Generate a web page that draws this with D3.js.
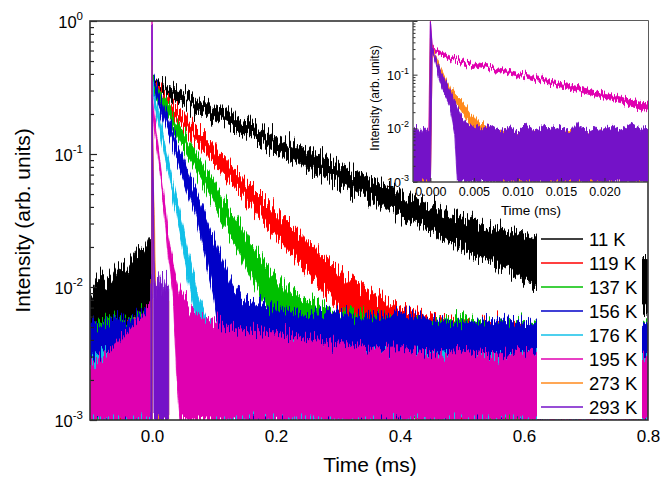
<!DOCTYPE html>
<html>
<head>
<meta charset="utf-8">
<script src="https://cdn.jsdelivr.net/npm/d3@7"></script>
<style>
  body { margin: 0; background: #fff; }
  text { font-family: "Liberation Sans", Arial, Helvetica, sans-serif; fill: #000; }
</style>
</head>
<body>
<svg id="chart" width="662" height="478"></svg>
<script>
// Series labels and colours (legend order = drawing order)
const seriesNames = ['11 K', '119 K', '137 K', '156 K', '176 K', '195 K', '273 K', '293 K'];
const seriesColors = ['#000000', '#ff0000', '#00c000', '#0000c8', '#12c0e8', '#e000b0', '#ff8a1c', '#7412c8'];

// Each row: [time (ms), upper edge of noisy trace, lower edge of noisy trace]
const s11K = [
    [-0.1, 0.009, 0.0005], [-0.085, 0.012, 0.0005], [-0.07, 0.011, 0.0005], [-0.055, 0.015, 0.0005],
    [-0.04, 0.014, 0.0005], [-0.025, 0.019, 0.0005], [-0.012, 0.02, 0.0005], [-0.003, 0.025, 0.0005],
    [-0.0005, 0.022, 0.0005], [0, 0.36, 0.3], [0.01, 0.35, 0.29], [0.05, 0.29, 0.24],
    [0.1, 0.226, 0.182], [0.15, 0.175, 0.138], [0.2, 0.136, 0.104], [0.25, 0.105, 0.079],
    [0.3, 0.084, 0.06], [0.35, 0.066, 0.045], [0.4, 0.051, 0.034], [0.45, 0.041, 0.026],
    [0.5, 0.033, 0.0195], [0.55, 0.028, 0.015], [0.6, 0.025, 0.011], [0.65, 0.022, 0.0093],
    [0.7, 0.0195, 0.008], [0.75, 0.0175, 0.007], [0.8, 0.016, 0.006]
];
const s119K = [
    [-0.1, 0.0045, 0.0005], [-0.06, 0.005, 0.0005], [-0.03, 0.0055, 0.0005], [-0.0005, 0.005, 0.0005],
    [0, 0.36, 0.3], [0.02, 0.28, 0.232], [0.05, 0.198, 0.158], [0.1, 0.114, 0.085],
    [0.15, 0.064, 0.046], [0.2, 0.037, 0.024], [0.25, 0.022, 0.0133], [0.3, 0.0135, 0.007],
    [0.35, 0.0095, 0.0038], [0.38, 0.008, 0.0012], [0.4, 0.007, 0.0005], [0.44, 0.006, 0.0005],
    [0.48, 0.0055, 0.0005], [0.52, 0.005, 0.0005], [0.56, 0.0055, 0.0005], [0.6, 0.0048, 0.0005],
    [0.7, 0.0048, 0.0005], [0.8, 0.0046, 0.0005]
];
const s137K = [
    [-0.1, 0.005, 0.0005], [-0.07, 0.006, 0.0005], [-0.04, 0.0055, 0.0005], [-0.015, 0.0065, 0.0005],
    [-0.0005, 0.006, 0.0005], [0, 0.37, 0.3], [0.02, 0.26, 0.21], [0.04, 0.18, 0.142],
    [0.06, 0.125, 0.095], [0.08, 0.088, 0.063], [0.1, 0.061, 0.042], [0.12, 0.043, 0.028],
    [0.14, 0.03, 0.0185], [0.16, 0.021, 0.012], [0.18, 0.0155, 0.0078], [0.2, 0.0118, 0.0045],
    [0.22, 0.0095, 0.0018], [0.25, 0.0078, 0.0005], [0.3, 0.0066, 0.0005], [0.35, 0.0062, 0.0005],
    [0.4, 0.0056, 0.0005], [0.45, 0.0054, 0.0005], [0.5, 0.006, 0.0005], [0.55, 0.005, 0.0005],
    [0.6, 0.0054, 0.0005], [0.65, 0.0048, 0.0005], [0.7, 0.0055, 0.0005], [0.75, 0.005, 0.0005],
    [0.8, 0.0054, 0.0005]
];
const s156K = [
    [-0.1, 0.0055, 0.0005], [-0.08, 0.005, 0.0005], [-0.06, 0.006, 0.0005], [-0.04, 0.0055, 0.0005],
    [-0.02, 0.0065, 0.0005], [-0.0005, 0.006, 0.0005], [0, 0.38, 0.31], [0.01, 0.3, 0.245],
    [0.02, 0.224, 0.178], [0.03, 0.165, 0.127], [0.04, 0.123, 0.092], [0.05, 0.093, 0.066],
    [0.06, 0.069, 0.047], [0.07, 0.052, 0.034], [0.08, 0.04, 0.022], [0.09, 0.03, 0.014],
    [0.1, 0.023, 0.0085], [0.11, 0.0175, 0.004], [0.12, 0.0135, 0.0015], [0.13, 0.0105, 0.0005],
    [0.15, 0.008, 0.0005], [0.2, 0.0068, 0.0005], [0.25, 0.0062, 0.0005], [0.3, 0.0064, 0.0005],
    [0.35, 0.0057, 0.0005], [0.4, 0.0064, 0.0005], [0.45, 0.0056, 0.0005], [0.5, 0.0053, 0.0005],
    [0.55, 0.0058, 0.0005], [0.6, 0.0053, 0.0005], [0.7, 0.0056, 0.0005], [0.8, 0.0053, 0.0005]
];
const s176K = [
    [-0.1, 0.003, 0.0005], [-0.05, 0.0032, 0.0005], [-0.0005, 0.0035, 0.0005], [0, 0.35, 0.3],
    [0.005, 0.275, 0.23], [0.01, 0.21, 0.177], [0.02, 0.125, 0.101], [0.03, 0.075, 0.059],
    [0.04, 0.045, 0.034], [0.05, 0.028, 0.019], [0.06, 0.017, 0.0105], [0.07, 0.0108, 0.0058],
    [0.08, 0.0074, 0.003], [0.09, 0.0056, 0.0015], [0.1, 0.0046, 0.0005], [0.12, 0.0038, 0.0005],
    [0.3, 0.0032, 0.0005], [0.5, 0.003, 0.0005], [0.8, 0.003, 0.0005]
];
const s195K = [
    [-0.1, 0.0025, 0.0005], [-0.08, 0.003, 0.0005], [-0.06, 0.0036, 0.0005], [-0.04, 0.0045, 0.0005],
    [-0.02, 0.006, 0.0005], [-0.005, 0.0072, 0.0005], [-0.0015, 0.0065, 0.0005], [-0.0008, 0.005, 0.0005],
    [-0.0002, 0.0065, 0.0005], [0, 1.0, 0.0005], [0.0002, 0.34, 0.28], [0.0006, 0.3, 0.26],
    [0.0012, 0.27, 0.23], [0.0023, 0.22, 0.19], [0.0046, 0.17, 0.145], [0.0081, 0.13, 0.112],
    [0.0115, 0.097, 0.083], [0.0173, 0.058, 0.047], [0.0219, 0.038, 0.03], [0.025, 0.028, 0.02],
    [0.03, 0.019, 0.012], [0.035, 0.014, 0.007], [0.04, 0.011, 0.002], [0.045, 0.009, 0.0005],
    [0.05, 0.0082, 0.0005], [0.06, 0.0072, 0.0005], [0.07, 0.0066, 0.0005], [0.08, 0.006, 0.0005],
    [0.1, 0.0055, 0.0005], [0.12, 0.005, 0.0005], [0.15, 0.0047, 0.0005], [0.2, 0.0045, 0.0005],
    [0.25, 0.0041, 0.0005], [0.3, 0.0038, 0.0005], [0.35, 0.0034, 0.0005], [0.4, 0.0035, 0.0005],
    [0.45, 0.0031, 0.0005], [0.5, 0.0033, 0.0005], [0.55, 0.0031, 0.0005], [0.6, 0.0033, 0.0005],
    [0.65, 0.003, 0.0005], [0.7, 0.0032, 0.0005], [0.75, 0.0033, 0.0005], [0.8, 0.0031, 0.0005]
];
const s273K = [
    [-0.002, 0.008, 0.0005], [-0.0015, 0.0095, 0.0005], [-0.001, 0.007, 0.0005], [-0.0005, 0.009, 0.0005],
    [-0.0001, 0.008, 0.0005], [0, 0.5, 0.0005], [0.0002, 0.33, 0.29], [0.0006, 0.22, 0.19],
    [0.0011, 0.15, 0.1], [0.0017, 0.09, 0.065], [0.0023, 0.056, 0.037], [0.0029, 0.042, 0.028],
    [0.0035, 0.034, 0.022], [0.0046, 0.019, 0.0115], [0.0058, 0.0125, 0.0065], [0.0069, 0.0095, 0.002],
    [0.008, 0.0085, 0.0005], [0.01, 0.008, 0.0005], [0.012, 0.0085, 0.0005], [0.014, 0.0075, 0.0005],
    [0.016, 0.008, 0.0005], [0.018, 0.0075, 0.0005], [0.02, 0.0085, 0.0005], [0.022, 0.0078, 0.0005],
    [0.024, 0.008, 0.0005], [0.027, 0.008, 0.0005]
];
const s293K = [
    [-0.002, 0.009, 0.0005], [-0.0016, 0.011, 0.0005], [-0.0012, 0.008, 0.0005], [-0.0008, 0.0105, 0.0005],
    [-0.0004, 0.009, 0.0005], [-0.0001, 0.01, 0.0005], [0, 1.0, 0.0005], [0.0002, 0.32, 0.27],
    [0.0006, 0.21, 0.17], [0.0011, 0.12, 0.07], [0.0017, 0.075, 0.04], [0.0023, 0.05, 0.025],
    [0.0028, 0.032, 0.008], [0.0031, 0.024, 0.0008], [0.0035, 0.017, 0.0005], [0.004, 0.013, 0.0005],
    [0.0046, 0.0115, 0.0005], [0.005, 0.011, 0.0005], [0.006, 0.0095, 0.0005], [0.007, 0.0115, 0.0005],
    [0.008, 0.009, 0.0005], [0.009, 0.0105, 0.0005], [0.01, 0.0085, 0.0005], [0.011, 0.012, 0.0005],
    [0.012, 0.009, 0.0005], [0.013, 0.0105, 0.0005], [0.014, 0.0095, 0.0005], [0.015, 0.011, 0.0005],
    [0.016, 0.0085, 0.0005], [0.017, 0.0125, 0.0005], [0.018, 0.009, 0.0005], [0.019, 0.0105, 0.0005],
    [0.02, 0.0095, 0.0005], [0.021, 0.011, 0.0005], [0.022, 0.009, 0.0005], [0.023, 0.0115, 0.0005],
    [0.024, 0.0095, 0.0005], [0.025, 0.01, 0.0005], [0.027, 0.0095, 0.0005]
];
const allSeries = [s11K, s119K, s137K, s156K, s176K, s195K, s273K, s293K];
const insetSeries = [5, 6, 7]; // 195 K, 273 K, 293 K

// Axis ticks
const xTicksMain = [0, 0.2, 0.4, 0.6, 0.8];
const xTicksInset = [0, 0.005, 0.01, 0.015, 0.02];
const yDecades = [1e-3, 1e-2, 1e-1, 1];
const yDecadeExp = ['-3', '-2', '-1', '0'];

const svg = d3.select('#chart');
const font = '"Liberation Sans", Arial, sans-serif';
const defs = svg.append('defs');

// Jitter filter: shifts each pixel column up/down so the bands read as noisy traces
function addJitter(id, seed, scale, freq) {
    const f = defs.append('filter').attr('id', id)
        .attr('filterUnits', 'userSpaceOnUse')
        .attr('x', 0).attr('y', 0).attr('width', 662).attr('height', 478)
        .attr('color-interpolation-filters', 'sRGB');
    f.append('feTurbulence')
        .attr('type', 'fractalNoise').attr('baseFrequency', freq)
        .attr('numOctaves', 2).attr('seed', seed).attr('result', 'noise');
    f.append('feColorMatrix').attr('in', 'noise').attr('type', 'matrix')
        .attr('values', '0 0 0 0 0.5  0 1 0 0 0  0 0 0 0 0  0 0 0 0 1')
        .attr('result', 'shift');
    f.append('feDisplacementMap')
        .attr('in', 'SourceGraphic').attr('in2', 'shift').attr('scale', scale)
        .attr('xChannelSelector', 'R').attr('yChannelSelector', 'G');
}
seriesNames.forEach((n, i) => {
    addJitter(`jit${i}`, 3 + i * 7, 34, '0.75 0.012');
    addJitter(`ijit${i}`, 5 + i * 11, 13, '0.7 0.02');
});

// ---------- main plot ----------
const M = { left: 90, right: 648, top: 21, bottom: 420 };
const x = d3.scaleLinear().domain([-0.1, 0.8]).range([M.left, M.right]);
const y = d3.scaleLog().domain([1e-3, 1]).range([M.bottom, M.top]).clamp(true);

defs.append('clipPath').attr('id', 'clipMain').append('rect')
    .attr('x', M.left).attr('y', M.top)
    .attr('width', M.right - M.left).attr('height', M.bottom - M.top);

const band = (sx, sy) => d3.area()
    .x(d => sx(d[0]))
    .y0(d => sy(d[2]))
    .y1(d => sy(d[1]));

const mainData = svg.append('g').attr('clip-path', 'url(#clipMain)');
allSeries.forEach((s, i) => {
    mainData.append('path')
        .datum(s)
        .attr('d', band(x, y))
        .attr('fill', seriesColors[i])
        .attr('stroke', seriesColors[i])
        .attr('stroke-width', 0.9)
        .attr('stroke-linejoin', 'round')
        .attr('filter', `url(#jit${i})`);
});

// Legend (white box over the data)
const legend = svg.append('g');
legend.append('rect')
    .attr('x', 537).attr('y', 226).attr('width', 105).attr('height', 193)
    .attr('fill', '#fff');
seriesNames.forEach((name, i) => {
    const ly = 239 + i * 24;
    legend.append('line')
        .attr('x1', 541).attr('x2', 583).attr('y1', ly).attr('y2', ly)
        .attr('stroke', seriesColors[i]).attr('stroke-width', 1.5);
    legend.append('text')
        .attr('x', 589).attr('y', ly + 6.5)
        .attr('font-size', '18.5px')
        .text(name);
});

// Main axes
const axisG = svg.append('g');
axisG.append('g')
    .attr('transform', `translate(0,${M.bottom})`)
    .call(d3.axisBottom(x).tickValues(xTicksMain).tickSize(0).tickPadding(10)
        .tickFormat(d3.format('.1f')))
    .call(g => g.select('.domain').remove())
    .selectAll('text').attr('font-size', '17px').attr('font-family', font).attr('fill', '#000');

const yMinor = y.ticks().filter(v => yDecades.indexOf(v) < 0);
axisG.append('g')
    .attr('transform', `translate(${M.left},0)`)
    .call(d3.axisLeft(y).tickValues(yMinor).tickSize(-4).tickFormat(''))
    .call(g => g.select('.domain').remove())
    .selectAll('line').attr('stroke', '#222').attr('stroke-width', 1.2);
axisG.append('g')
    .attr('transform', `translate(${M.left},0)`)
    .call(d3.axisLeft(y).tickValues(yDecades).tickSize(-7).tickFormat(''))
    .call(g => g.select('.domain').remove())
    .selectAll('line').attr('stroke', '#222').attr('stroke-width', 1.2);

yDecades.forEach((v, i) => {
    const t = axisG.append('text')
        .attr('x', 83).attr('y', y(v) + 7)
        .attr('text-anchor', 'end')
        .attr('font-size', '16.5px');
    t.append('tspan').text('10');
    t.append('tspan').attr('dy', -8).attr('font-size', '11.5px').text(yDecadeExp[i]);
});

axisG.append('rect')
    .attr('x', M.left).attr('y', M.top)
    .attr('width', M.right - M.left).attr('height', M.bottom - M.top)
    .attr('fill', 'none').attr('stroke', '#333').attr('stroke-width', 1.6);

svg.append('text')
    .attr('x', (M.left + M.right) / 2 + 1).attr('y', 472)
    .attr('text-anchor', 'middle').attr('font-size', '21px')
    .text('Time (ms)');
svg.append('text')
    .attr('transform', `translate(30,${(M.top + M.bottom) / 2})rotate(-90)`)
    .attr('text-anchor', 'middle').attr('font-size', '21px')
    .text('Intensity (arb. units)');

// ---------- inset ----------
const I = { left: 413, right: 648, top: 21, bottom: 182 };
const ix = d3.scaleLinear().domain([-0.002, 0.025]).range([I.left, I.right]);
const iy = d3.scaleLog().domain([1e-3, 1]).range([I.bottom, I.top]).clamp(true);

defs.append('clipPath').attr('id', 'clipInset').append('rect')
    .attr('x', I.left).attr('y', I.top)
    .attr('width', I.right - I.left).attr('height', I.bottom - I.top);

const inset = svg.append('g');
inset.append('rect')
    .attr('x', I.left).attr('y', I.top)
    .attr('width', I.right - I.left).attr('height', I.bottom - I.top)
    .attr('fill', '#fff');

const insetData = inset.append('g').attr('clip-path', 'url(#clipInset)');
insetSeries.forEach(i => {
    insetData.append('path')
        .datum(allSeries[i])
        .attr('d', band(ix, iy))
        .attr('fill', seriesColors[i])
        .attr('stroke', seriesColors[i])
        .attr('stroke-width', 0.9)
        .attr('stroke-linejoin', 'round')
        .attr('filter', `url(#ijit${i})`);
});

inset.append('g')
    .attr('transform', `translate(0,${I.bottom})`)
    .call(d3.axisBottom(ix).tickValues(xTicksInset).tickSize(-4).tickPadding(5)
        .tickFormat(d3.format('.3f')))
    .call(g => g.select('.domain').remove())
    .call(g => g.selectAll('line').attr('stroke', '#333'))
    .selectAll('text').attr('font-size', '12.5px').attr('font-family', font).attr('fill', '#000');

inset.append('g')
    .attr('transform', `translate(${I.left},0)`)
    .call(d3.axisLeft(iy).tickValues(yMinor).tickSize(-2.5).tickFormat(''))
    .call(g => g.select('.domain').remove())
    .selectAll('line').attr('stroke', '#333');
inset.append('g')
    .attr('transform', `translate(${I.left},0)`)
    .call(d3.axisLeft(iy).tickValues(yDecades).tickSize(-4.5).tickFormat(''))
    .call(g => g.select('.domain').remove())
    .selectAll('line').attr('stroke', '#333');

yDecades.slice(0, 3).forEach((v, i) => {
    const t = inset.append('text')
        .attr('x', 409).attr('y', iy(v) + 5)
        .attr('text-anchor', 'end')
        .attr('font-size', '12.5px');
    t.append('tspan').text('10');
    t.append('tspan').attr('dy', -6).attr('font-size', '9px').text(yDecadeExp[i]);
});

inset.append('line')
    .attr('x1', I.left).attr('x2', I.left).attr('y1', I.top).attr('y2', I.bottom)
    .attr('stroke', '#444').attr('stroke-width', 1.3);
inset.append('line')
    .attr('x1', I.left).attr('x2', I.right).attr('y1', I.bottom).attr('y2', I.bottom)
    .attr('stroke', '#444').attr('stroke-width', 1.3);

inset.append('text')
    .attr('x', 531).attr('y', 215)
    .attr('text-anchor', 'middle').attr('font-size', '13.5px')
    .text('Time (ms)');
inset.append('text')
    .attr('transform', 'translate(379,98)rotate(-90)')
    .attr('text-anchor', 'middle').attr('font-size', '12px')
    .text('Intensity (arb. units)');
</script>
</body>
</html>
